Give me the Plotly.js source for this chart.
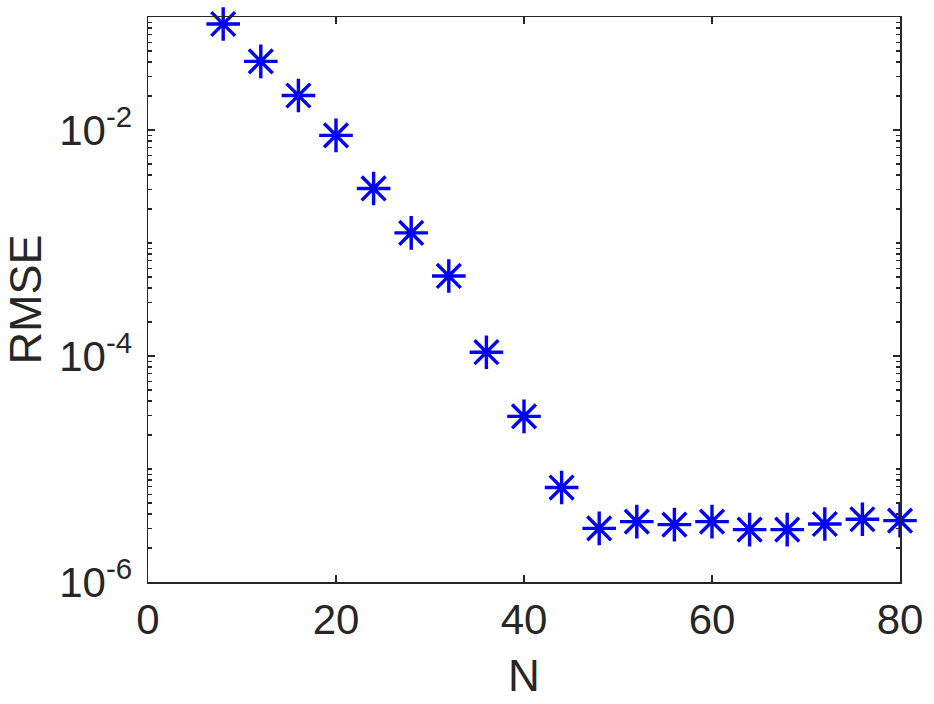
<!DOCTYPE html>
<html>
<head>
<meta charset="utf-8">
<script src="https://cdn.plot.ly/plotly-3.0.1.min.js"></script>
<style>
  html, body { margin: 0; padding: 0; background: #fff; }
  #plot { width: 934px; height: 704px; }
</style>
</head>
<body>
<div id="plot"></div>
<script>
// values
const N = [8, 12, 16, 20, 24, 28, 32, 36, 40, 44, 48, 52, 56, 60, 64, 68, 72, 76, 80];
const rmse = [0.0867, 0.0405, 0.0202, 0.00897, 0.00304, 0.00123, 0.000511, 0.000108,
              2.92e-5, 6.85e-6, 2.98e-6, 3.42e-6, 3.22e-6, 3.42e-6, 2.91e-6, 2.91e-6,
              3.26e-6, 3.59e-6, 3.49e-6];

const xTicks = [0, 20, 40, 60, 80];
const yTicks = [1e-6, 1e-4, 1e-2];
const yTickText = ['10<sup>-6</sup>', '10<sup>-4</sup>', '10<sup>-2</sup>'];

// minor ticks: 1..9 x 10^k, except the labelled ones
const minorVals = [];
for (let k = -6; k <= -2; k++) {
    for (let m = 1; m <= 9; m++) {
        const v = m * Math.pow(10, k);
        if (m === 1 && k % 2 === 0) continue;
        minorVals.push(v);
    }
}

const ink = '#262626';
const fontFam = 'Liberation Sans, Arial, sans-serif';

const trace = {
    x: N, y: rmse,
    mode: 'markers',
    type: 'scatter',
    cliponaxis: false,
    marker: {
        symbol: 'asterisk-open',
        size: 28,
        color: '#0000ff',
        line: { color: '#0000ff', width: 3.4 }
    },
    hoverinfo: 'x+y'
};

const layout = {
    width: 934, height: 704,
    margin: { l: 148, r: 34, t: 17, b: 122 },
    paper_bgcolor: '#fff', plot_bgcolor: '#fff',
    showlegend: false,
    font: { family: fontFam, color: ink },
    xaxis: {
        range: [0, 80],
        tickvals: xTicks,
        ticks: 'inside', ticklen: 7, tickwidth: 1.3, tickcolor: ink,
        showline: true, linecolor: ink, linewidth: 1.5, mirror: 'ticks',
        showgrid: false, zeroline: false,
        tickfont: { size: 42, color: ink },
        title: { text: 'N', font: { size: 44, color: ink }, standoff: 18 }
    },
    yaxis: {
        type: 'log',
        range: [-6, -1],
        tickmode: 'array',
        tickvals: yTicks,
        ticktext: yTickText,
        ticks: 'inside', ticklen: 7, tickwidth: 1.3, tickcolor: ink,
        ticklabelstandoff: 6,
        minor: { tickvals: minorVals, ticks: 'inside', ticklen: 4, tickwidth: 1.1, tickcolor: ink, showgrid: false },
        showline: true, linecolor: ink, linewidth: 1.5, mirror: 'ticks',
        showgrid: false, zeroline: false,
        tickfont: { size: 42, color: ink },
        title: { text: 'RMSE', font: { size: 45, color: ink }, standoff: 4 }
    }
};

Plotly.newPlot('plot', [trace], layout, { displayModeBar: false, staticPlot: true });
</script>
</body>
</html>
